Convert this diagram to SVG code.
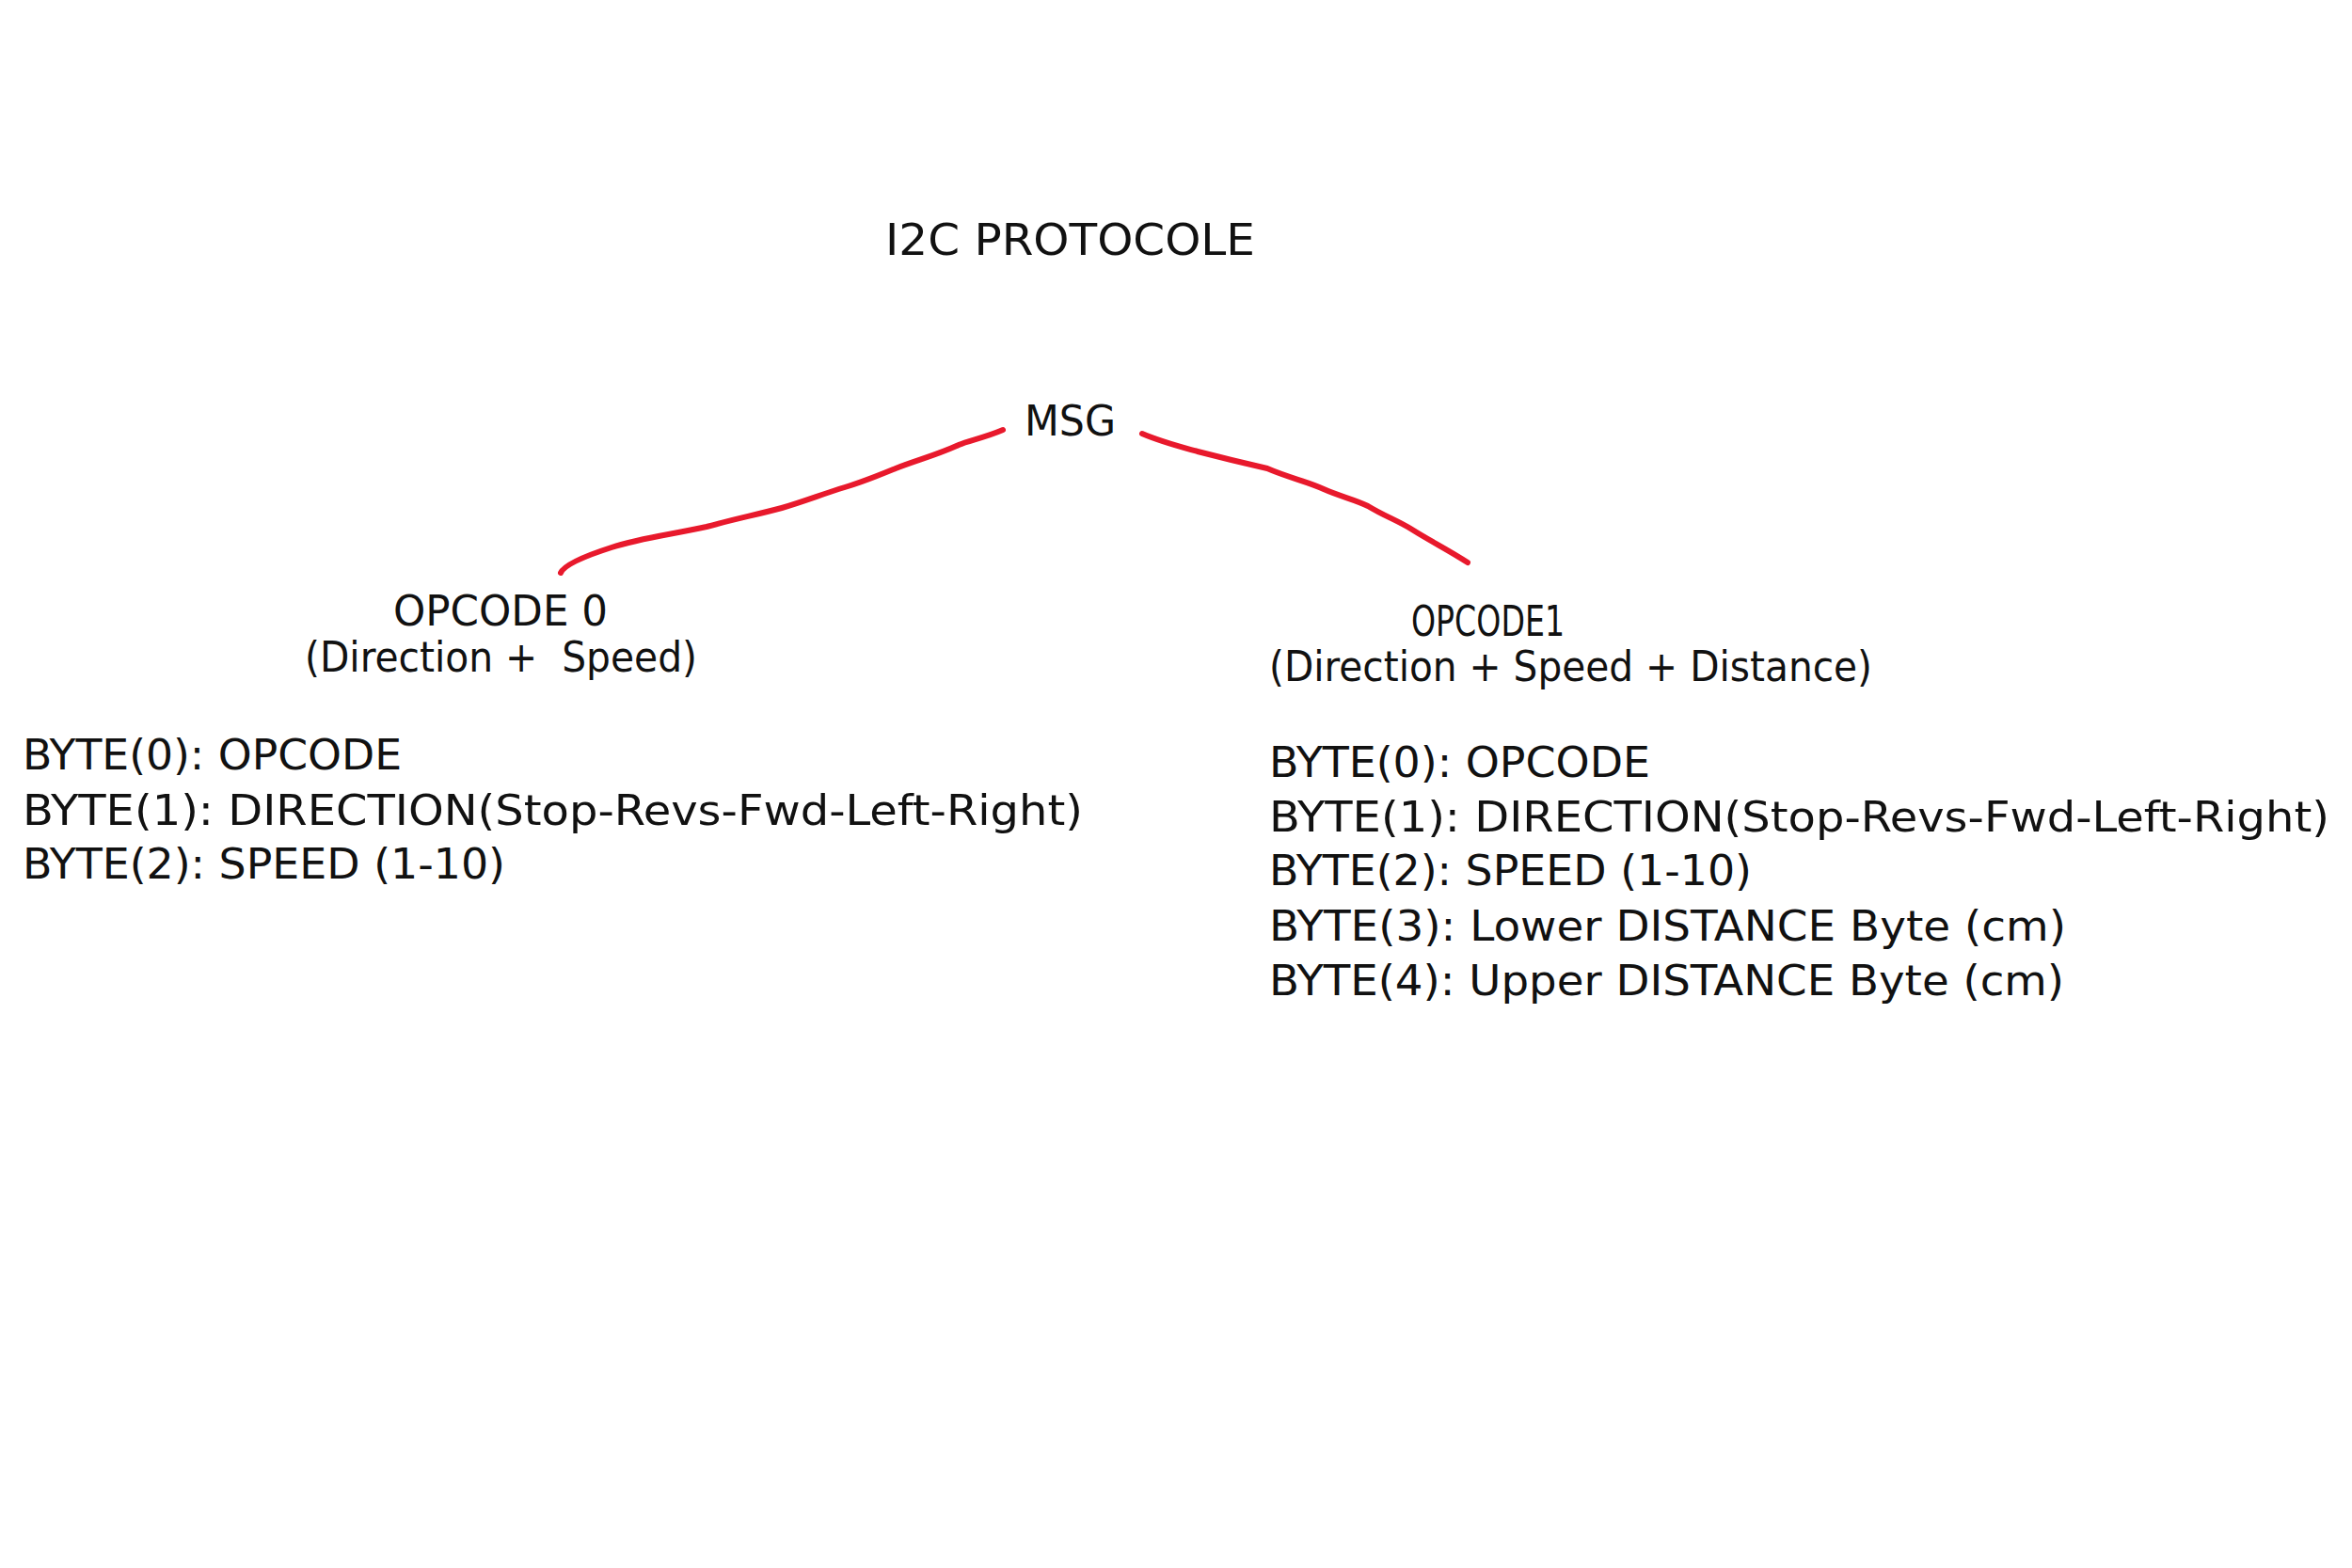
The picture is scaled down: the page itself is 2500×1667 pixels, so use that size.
<svg xmlns="http://www.w3.org/2000/svg" width="2500" height="1667" viewBox="0 0 2500 1667">
<style>
  .t { font-family: "Liberation Sans Narrow", "DejaVu Sans Condensed", "Liberation Sans", sans-serif; fill: #111; font-size: 44px; white-space: pre; }
  .title { font-size: 46px; }
  .edge { fill: none; stroke: #e8192c; stroke-width: 6; stroke-linecap: round; stroke-linejoin: round; }
</style>
<rect width="2500" height="1667" fill="#ffffff"/>
<g id="title"><text class="t title" x="941" y="271" textLength="393" lengthAdjust="spacingAndGlyphs">I2C PROTOCOLE</text></g>
<g id="connectors">
  <path class="edge" d="M1066,457 C1045,466 1030,468 1019,473 C995,484 975,489 952,498 C930,507 918,512 898,518 C875,525 855,533 831,540 C805,547 780,552 751,560 C715,568 680,572 650,582 C625,590 600,600 596,609"/>
  <path class="edge" d="M1214,461 C1235,470 1255,475 1273,480 C1300,487 1325,493 1347,498 C1370,508 1390,512 1407,520 C1425,528 1440,531 1454,538 C1472,549 1485,553 1501,563 C1520,575 1540,585 1560,598"/>
</g>
<g id="msg"><text class="t" x="1089" y="463" textLength="97" lengthAdjust="spacingAndGlyphs">MSG</text></g>
<g id="opcode0">
  <text class="t" x="418" y="665" textLength="228" lengthAdjust="spacingAndGlyphs">OPCODE 0</text>
  <text class="t" x="324" y="714" textLength="417" lengthAdjust="spacingAndGlyphs" xml:space="preserve">(Direction +  Speed)</text>
</g>
<g id="opcode0-bytes">
  <text class="t" x="24" y="818" textLength="403" lengthAdjust="spacingAndGlyphs">BYTE(0): OPCODE</text>
  <text class="t" x="24" y="877" textLength="1127" lengthAdjust="spacingAndGlyphs">BYTE(1): DIRECTION(Stop-Revs-Fwd-Left-Right)</text>
  <text class="t" x="24" y="934" textLength="513" lengthAdjust="spacingAndGlyphs">BYTE(2): SPEED (1-10)</text>
</g>
<g id="opcode1">
  <text class="t" x="1500" y="676" textLength="163" lengthAdjust="spacingAndGlyphs">OPCODE1</text>
  <text class="t" x="1349" y="724" textLength="641" lengthAdjust="spacingAndGlyphs">(Direction + Speed + Distance)</text>
</g>
<g id="opcode1-bytes">
  <text class="t" x="1349" y="826" textLength="405" lengthAdjust="spacingAndGlyphs">BYTE(0): OPCODE</text>
  <text class="t" x="1349" y="884" textLength="1127" lengthAdjust="spacingAndGlyphs">BYTE(1): DIRECTION(Stop-Revs-Fwd-Left-Right)</text>
  <text class="t" x="1349" y="941" textLength="513" lengthAdjust="spacingAndGlyphs">BYTE(2): SPEED (1-10)</text>
  <text class="t" x="1349" y="1000" textLength="847" lengthAdjust="spacingAndGlyphs">BYTE(3): Lower DISTANCE Byte (cm)</text>
  <text class="t" x="1349" y="1058" textLength="845" lengthAdjust="spacingAndGlyphs">BYTE(4): Upper DISTANCE Byte (cm)</text>
</g>
</svg>
